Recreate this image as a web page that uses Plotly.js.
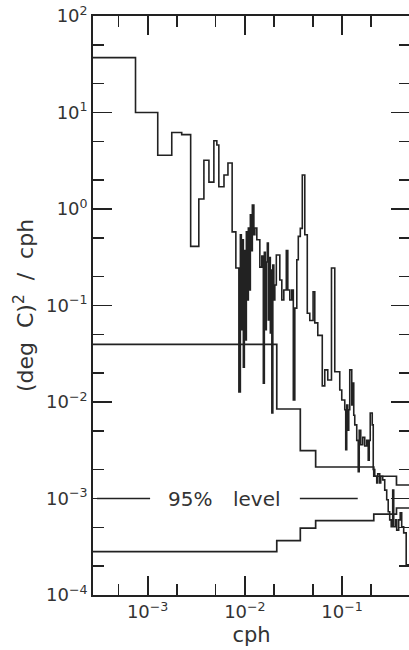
<!DOCTYPE html>
<html><head><meta charset="utf-8">
<script src="https://cdn.plot.ly/plotly-3.0.1.min.js"></script>
<style>html,body{margin:0;padding:0;overflow:hidden;background:#fff;} #chart{width:413px;height:650px;}</style>
</head><body><div id="chart"></div>
<script>
// spectrum: step edges (cph) and spectral level in each step ((deg C)^2/cph)
const specFreq = [
  2.74e-4, 7.5e-4, 1.27e-3, 1.77e-3, 2.24e-3, 2.77e-3, 3.36e-3, 3.79e-3, 4.27e-3, 4.8e-3, 5.15e-3, 5.4e-3, 6.1e-3, 6.7e-3, 7.4e-3,
  0.00808, 0.00868, 0.00899, 0.00920, 0.00943, 0.00965, 0.00988, 0.01012, 0.01036, 0.01061,
  0.01086, 0.01112, 0.01139, 0.01166, 0.01194, 0.01238, 0.01268, 0.01328, 0.01426, 0.01495,
  0.01549, 0.01586, 0.01624, 0.01663, 0.01703, 0.01744, 0.01786, 0.01829, 0.01873, 0.01895,
  0.01940, 0.01987, 0.02034, 0.02107, 0.02289, 0.02400, 0.02517, 0.02670, 0.02766, 0.02901,
  0.03041, 0.03151, 0.03265, 0.03423, 0.03547, 0.03719, 0.03899, 0.04136, 0.04387, 0.04656,
  0.05035, 0.05241, 0.05627, 0.06258, 0.06640, 0.07129, 0.07783, 0.08414, 0.09471, 0.09929,
  0.1066, 0.1091, 0.1117, 0.1144, 0.1172, 0.1200, 0.1258, 0.1288, 0.1319, 0.1351,
  0.1416, 0.1467, 0.1502, 0.1557, 0.1632, 0.1711, 0.1794, 0.1859, 0.1903, 0.1949,
  0.2044, 0.2093, 0.2169, 0.2274, 0.2328, 0.2441, 0.2499, 0.2620, 0.2747, 0.2880,
  0.2984, 0.3092, 0.3204, 0.3320, 0.3400, 0.3564, 0.3649, 0.3825, 0.3964, 0.4108,
  0.4306, 0.4568, 0.5
];
const specPower = [
  37, 10, 3.6, 6.2, 5.9, 0.41, 1.27, 3.2, 1.9, 5.1, 4.6, 1.7, 2.25, 3.0, 0.58,
  0.245, 0.0127, 0.54, 0.056, 0.48, 0.023, 0.37, 0.044, 0.58, 0.114,
  0.635, 0.145, 0.87, 0.37, 1.1, 0.54, 0.635, 0.48, 0.25, 0.326,
  0.0157, 0.356, 0.056, 0.282, 0.444, 0.071, 0.314, 0.052, 0.233, 0.0077,
  0.262, 0.114, 0.163, 0.334, 0.184, 0.114, 0.145, 0.37, 0.145, 0.114,
  0.145, 0.0105, 0.094, 0.298, 0.52, 0.63, 2.25, 0.54, 0.083, 0.07,
  0.139, 0.066, 0.049, 0.0147, 0.0215, 0.0169, 0.245, 0.0206, 0.0133, 0.0105,
  0.0083, 0.0032, 0.0093, 0.0051, 0.0083, 0.0215, 0.0093, 0.0157, 0.0073, 0.0058,
  0.0040, 0.0019, 0.0051, 0.0036, 0.0043, 0.0035, 0.0040, 0.0025, 0.0040, 0.0077,
  0.0058, 0.0020, 0.0017, 0.00145, 0.0018, 0.00145, 0.0017, 0.00156, 0.00122, 0.00097,
  0.00073, 0.0006, 0.00051, 0.00122, 0.00051, 0.0006, 0.00047, 0.0006, 0.00071, 0.00051,
  0.00044, 0.000205
];
// band-averaged curves
const bandEdges = [2.74e-4, 0.0213, 0.0372, 0.0535, 0.212, 0.363, 0.5];
const bandUpper = [0.0396, 0.00846, 0.00313, 0.00212, 0.0017, 0.00138];
const bandLower = [2.81e-4, 3.66e-4, 4.94e-4, 5.89e-4, 6.9e-4, 7.97e-4];
// 95% level line
const levelFreq = [3.01e-4, 1.06e-3, null, 0.0368, 0.145];
const levelValue = [1e-3, 1e-3, null, 1e-3, 1e-3];
const levelLabels = ['95%', 'level'];
const levelLabelFreq = [2.72e-3, 0.01343];
// ticks
const xTickVals = [1e-3, 1e-2, 1e-1];
const xTickText = ['10<sup>\u22123</sup>', '10<sup>\u22122</sup>', '10<sup>\u22121</sup>'];
const xMinorVals = [5e-4, 2e-3, 5e-3, 2e-2, 5e-2, 2e-1];
const yTickVals = [1e-4, 1e-3, 1e-2, 1e-1, 1, 10, 100];
const yTickText = ['10<sup>\u22124</sup>', '10<sup>\u22123</sup>', '10<sup>\u22122</sup>', '10<sup>\u22121</sup>', '10<sup>0</sup>', '10<sup>1</sup>', '10<sup>2</sup>'];
const yMinorVals = [2e-4, 5e-4, 2e-3, 5e-3, 2e-2, 5e-2, 0.2, 0.5, 2, 5, 20, 50];

const ink = '#222222';
function stepTrace(xs, ys, w) {
  return {x: xs, y: ys.concat([ys[ys.length - 1]]), type: 'scatter', mode: 'lines',
          line: {shape: 'hv', color: ink, width: w}, hoverinfo: 'skip'};
}
const traces = [
  stepTrace(specFreq, specPower, 1.6),
  stepTrace(bandEdges, bandUpper, 1.7),
  stepTrace(bandEdges, bandLower, 1.7),
  {x: levelFreq, y: levelValue, type: 'scatter', mode: 'lines', line: {color: ink, width: 1.7}, hoverinfo: 'skip'}
];
const layout = {
  width: 413, height: 650,
  margin: {l: 93, r: 3, t: 16, b: 55},
  paper_bgcolor: '#fff', plot_bgcolor: '#fff', showlegend: false,
  font: {family: 'DejaVu Sans, sans-serif', color: '#333'},
  xaxis: {
    type: 'log', showline: true, linecolor: ink, linewidth: 1.8, mirror: 'allticks',
    ticks: 'inside', ticklen: 19, tickwidth: 1.7, tickcolor: ink,
    tickmode: 'array', tickvals: xTickVals, ticktext: xTickText,
    tickfont: {size: 18, color: '#333'}, showgrid: false, zeroline: false,
    range: [Math.log10(specFreq[0]), Math.log10(specFreq[specFreq.length - 1])],
    minor: {tickmode: 'array', tickvals: xMinorVals, ticks: 'inside', ticklen: 11, tickwidth: 1.7, tickcolor: ink},
    title: {text: 'cph', font: {size: 21, color: '#333'}, standoff: 6}
  },
  yaxis: {
    type: 'log', showline: true, linecolor: ink, linewidth: 1.8, mirror: 'allticks',
    ticks: 'inside', ticklen: 19, tickwidth: 1.7, tickcolor: ink,
    tickmode: 'array', tickvals: yTickVals, ticktext: yTickText,
    tickfont: {size: 18, color: '#333'}, showgrid: false, zeroline: false,
    range: [-4, 2],
    minor: {tickmode: 'array', tickvals: yMinorVals, ticks: 'inside', ticklen: 11, tickwidth: 1.7, tickcolor: ink},
    title: {text: '(deg\u00a0\u00a0C)<sup>2</sup>\u00a0\u00a0/\u00a0\u00a0cph', font: {size: 22, color: '#333'}, standoff: 6}
  },
  annotations: levelLabels.map((t, i) => ({
    x: Math.log10(levelLabelFreq[i]), y: -3, xref: 'x', yref: 'y', text: t, showarrow: false,
    font: {size: 20, color: '#333'}, xanchor: 'center', yanchor: 'middle'
  }))
};
Plotly.newPlot('chart', traces, layout, {staticPlot: true, displayModeBar: false});
</script></body></html>
